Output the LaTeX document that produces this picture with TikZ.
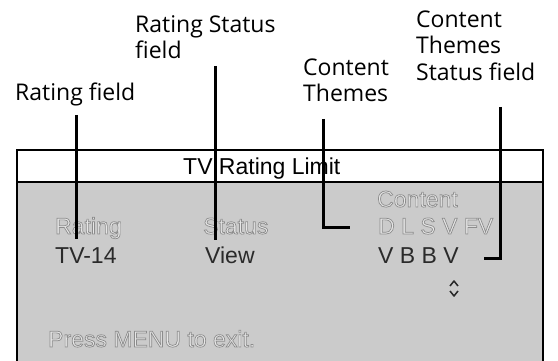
\documentclass[tikz,border=0pt]{standalone}
\usepackage{fontspec}
\setmainfont{Liberation Sans}
\newfontfamily\calloutfont{Open Sans}
\definecolor{panelgray}{HTML}{CBCBCB}
\definecolor{fadedtext}{HTML}{E6E6E6}
\definecolor{darktext}{HTML}{2A2A2A}
\newcommand{\outlinedtext}[1]{\special{pdf:literal direct 2 Tr 0.7 w 0.55 G}#1\special{pdf:literal direct 0 Tr 0 G}}
\begin{document}
\begin{tikzpicture}[x=1pt,y=-1pt,
  callout/.style={anchor=base west,inner sep=0pt,font=\calloutfont\fontsize{23}{26}\selectfont,text=black},
  screentext/.style={anchor=base west,inner sep=0pt,font=\fontsize{23}{26}\selectfont},
  faded/.style={screentext,text=fadedtext},
  dark/.style={screentext,text=darktext},
  leader/.style={line width=3pt,black},
  frameline/.style={line width=1.4pt,black}]
\useasboundingbox (0,0) rectangle (558,361);
% screen panel
\fill[white] (17,150) rectangle (543,182);
\fill[panelgray] (17,182) rectangle (543,361);
\draw[frameline] (17,361) -- (17,150) -- (543,150) -- (543,361);
\draw[frameline] (17,182) -- (543,182);
% title
\node[screentext] (title) at (183,175) {TV Rating Limit};
% screen texts
\node[faded] (hrating) at (55,234) {\outlinedtext{Rating}};
\node[faded] (hstatus) at (203,234) {\outlinedtext{Status}};
\node[faded] (hcontent) at (377,207) {\outlinedtext{Content}};
\node[faded] (hthemes) at (378,234) {\outlinedtext{D L S V FV}};
\node[dark] (vrating) at (55,263) {TV-14};
\node[dark] (vstatus) at (205,263) {View};
\node[dark] (vthemes) at (378,263) {V B B V};
\node[faded] (press) at (48,347) {\outlinedtext{Press MENU to exit.}};
% up/down selector
\coordinate (sel) at (454,288.5);
\draw[darktext,line width=1.5pt,line join=round]
  ([shift={(-4,-2.5)}]sel) -- ([shift={(0,-7.5)}]sel) -- ([shift={(4,-2.5)}]sel)
  ([shift={(-4,2.5)}]sel) -- ([shift={(0,7.5)}]sel) -- ([shift={(4,2.5)}]sel);
% callout labels
\node[callout] (c1) at (15,101) {Rating field};
\node[callout] (c2a) at (135,33) {Rating Status};
\node[callout] (c2b) at (135,59) {field};
\node[callout] (c3a) at (303,76) {Content};
\node[callout] (c3b) at (303,102) {Themes};
\node[callout] (c4a) at (416,28) {Content};
\node[callout] (c4b) at (416,54) {Themes};
\node[callout] (c4c) at (416,81) {Status field};
% leader line ends
\coordinate (l1s) at (76,115);  \coordinate (l1e) at (76,239);
\coordinate (l2s) at (215,66);  \coordinate (l2e) at (215,240);
\coordinate (l3s) at (323,119); \coordinate (l3c) at (323,227); \coordinate (l3e) at (350,227);
\coordinate (l4s) at (500,107); \coordinate (l4c) at (500,258); \coordinate (l4e) at (484,258);
\draw[leader] (l1s) -- (l1e);
\draw[leader] (l2s) -- (l2e);
\draw[leader] (l3s) -- (l3c) -- (l3e);
\draw[leader] (l4s) -- (l4c) -- (l4e);
\end{tikzpicture}
\end{document}
